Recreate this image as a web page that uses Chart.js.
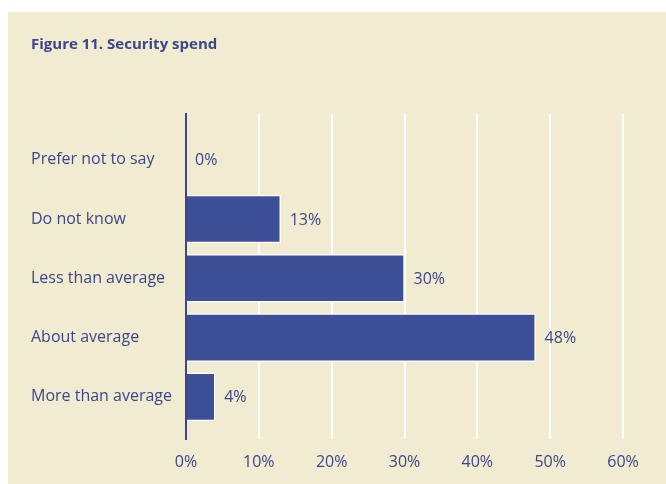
<!DOCTYPE html>
<html>
<head>
<meta charset="utf-8">
<script src="https://cdn.jsdelivr.net/npm/chart.js@4"></script>
<style>
  body { margin: 0; background: #fff; }
  #panel { position: absolute; left: 8px; top: 12px; width: 658px; height: 472px; background: #f1ebd1; }
</style>
</head>
<body>
<div id="panel"><canvas id="chart" width="658" height="472"></canvas></div>
<script>
// data
const categories = ["Prefer not to say", "Do not know", "Less than average", "About average", "More than average"];
const shares = [0, 13, 30, 48, 4];
const xTicks = [0, 10, 20, 30, 40, 50, 60];

const navy = "#3b478a";
const barBlue = "#3c4f97";
const font = "'Open Sans', 'Noto Sans', sans-serif";

// value labels to the right of each bar
const barLabels = {
    id: "barLabels",
    afterDatasetsDraw(chart) {
        const ctx = chart.ctx;
        const meta = chart.getDatasetMeta(0);
        ctx.save();
        ctx.font = "16px " + font;
        ctx.fillStyle = navy;
        ctx.textBaseline = "middle";
        ctx.textAlign = "left";
        meta.data.forEach((bar, i) => {
            ctx.fillText(shares[i] + "%", bar.x + 9, bar.y + 1);
        });
        ctx.restore();
    }
};

new Chart(document.getElementById("chart"), {
    type: "bar",
    data: {
        datasets: [{
            data: shares.map((v, i) => ({ x: v, y: i })),
            backgroundColor: barBlue,
            borderColor: "#ffffff",
            borderWidth: 1.5,
            barThickness: 48
        }]
    },
    options: {
        indexAxis: "y",
        responsive: false,
        animation: false,
        layout: { padding: { left: 23, right: 43, top: 0, bottom: 0 } },
        plugins: {
            legend: { display: false },
            tooltip: { enabled: false },
            title: {
                display: true,
                text: "Figure 11. Security spend",
                align: "start",
                color: navy,
                font: { family: font, size: 15, weight: "bold" },
                padding: { top: 24, bottom: 60 }
            }
        },
        scales: {
            x: {
                type: "linear",
                min: 0,
                max: 60,
                afterBuildTicks: s => { s.ticks = xTicks.map(v => ({ value: v })); },
                afterFit: s => { s.height = 45; },
                ticks: {
                    color: navy,
                    font: { family: font, size: 16 },
                    padding: 14,
                    callback: v => v + "%"
                },
                grid: {
                    color: c => c.index === 0 ? "rgba(0,0,0,0)" : "#ffffff",
                    lineWidth: 2,
                    drawTicks: false
                },
                border: { display: false }
            },
            y: {
                type: "linear",
                reverse: true,
                offset: false,
                min: -0.77,
                max: 4.71,
                afterBuildTicks: s => { s.ticks = categories.map((c, i) => ({ value: i })); },
                afterFit: s => { s.width = 155; },
                ticks: {
                    color: navy,
                    font: { family: font, size: 16 },
                    crossAlign: "far",
                    callback: v => categories[v]
                },
                grid: { display: false, offset: false },
                border: { display: true, color: navy, width: 2 }
            }
        }
    },
    plugins: [barLabels]
});
</script>
</body>
</html>
